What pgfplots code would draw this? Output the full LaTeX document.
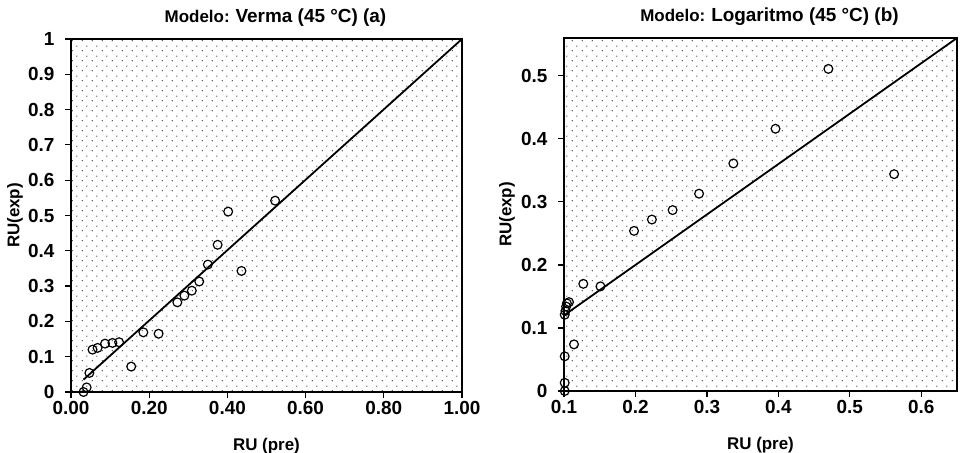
\documentclass[border=0pt]{standalone}
\usepackage{pgfplots}
\pgfplotsset{compat=1.18}
\usepackage{fontspec}
\setmainfont{Liberation Sans}
\usetikzlibrary{patterns.meta}
\pgfdeclarepattern{
  name=mydots, type=uncolored,
  bottom left={\pgfpoint{0bp}{0bp}}, top right={\pgfpoint{10bp}{10bp}},
  tile size={\pgfpoint{10bp}{10bp}},
  code={
    \pgfpathcircle{\pgfpoint{2.5bp}{2.5bp}}{0.7bp}
    \pgfpathcircle{\pgfpoint{7.5bp}{7.5bp}}{0.7bp}
    \pgfusepath{fill}
  }
}
\pgfplotsset{
  myax/.style={
    scale only axis, clip=false,
    axis line style={line width=1.3bp},
    tick pos=left, tick align=outside,
    major tick length=6bp,
    every tick/.style={black, line width=1.2bp},
    axis background/.style={pattern=mydots, pattern color=black!85},
    ticklabel style={font=\fontsize{19}{22}\selectfont\bfseries},
    yticklabel style={xshift=-7bp},
    label style={font=\fontsize{17}{20}\selectfont\bfseries},
    title style={at={(0.5,1)}, anchor=base, yshift=11bp, xshift=9bp},
    xlabel style={at={(axis description cs:0.5,0)}, anchor=base, yshift=-58bp},
  },
  pts/.style={only marks, mark=o, mark size=4.4bp, mark options={line width=1.2bp, black}},
  fit/.style={no marks, black, line width=1.8bp},
}
\begin{document}
\begin{tikzpicture}
\useasboundingbox (0,0) rectangle (961bp,453bp);
\begin{axis}[myax,
  at={(71bp,61bp)}, anchor=south west,
  width=391bp, height=353bp,
  xmin=0, xmax=1, ymin=0, ymax=1,
  xtick={0,0.2,0.4,0.6,0.8,1},
  xticklabels={0.00,0.20,0.40,0.60,0.80,1.00},
  ytick={0,0.1,0.2,0.3,0.4,0.5,0.6,0.7,0.8,0.9,1},
  yticklabels={0,0.1,0.2,0.3,0.4,0.5,0.6,0.7,0.8,0.9,1},
  xlabel={RU (pre)}, ylabel={RU(exp)},
  ylabel style={at={(axis description cs:-0.143,0.5)}, anchor=center},
  title={{\fontsize{17}{20}\selectfont\bfseries Modelo:}\hspace{6bp}{\fontsize{19}{22}\selectfont\bfseries Verma (45 °C) (a)}},
]
\addplot[fit] coordinates {(0.032,0.035) (1.0,1.0)};
\addplot[pts] coordinates {
(0.032,0.000) (0.040,0.013) (0.047,0.054) (0.055,0.120) (0.068,0.125)
(0.087,0.137) (0.106,0.139) (0.123,0.141) (0.154,0.072) (0.185,0.169)
(0.224,0.165) (0.272,0.254) (0.290,0.273) (0.309,0.287) (0.328,0.313)
(0.350,0.361) (0.375,0.417) (0.402,0.511) (0.436,0.343) (0.522,0.542)
};
\end{axis}
\begin{axis}[myax,
  at={(564bp,62bp)}, anchor=south west,
  width=393bp, height=353bp,
  xmin=0.1, xmax=0.65, ymin=0, ymax=0.56,
  xtick={0.1,0.2,0.3,0.4,0.5,0.6},
  xticklabels={0.1,0.2,0.3,0.4,0.5,0.6},
  ytick={0,0.1,0.2,0.3,0.4,0.5},
  yticklabels={0,0.1,0.2,0.3,0.4,0.5},
  xlabel={RU (pre)}, ylabel={RU(exp)},
  ylabel style={at={(axis description cs:-0.145,0.5)}, anchor=center},
  title={{\fontsize{17}{20}\selectfont\bfseries Modelo:}\hspace{6bp}{\fontsize{19}{22}\selectfont\bfseries Logaritmo (45 °C) (b)}},
]
\addplot[fit] coordinates {(0.1,0.120) (0.65,0.560)};
\addplot[pts] coordinates {
(0.101,0.000) (0.101,0.013) (0.101,0.055) (0.114,0.074) (0.101,0.121)
(0.102,0.127) (0.103,0.134) (0.104,0.139) (0.107,0.141) (0.127,0.170)
(0.151,0.166) (0.198,0.254) (0.223,0.272) (0.252,0.287) (0.289,0.313)
(0.337,0.361) (0.396,0.416) (0.470,0.511) (0.562,0.344)
};
\end{axis}
\end{tikzpicture}
\end{document}
